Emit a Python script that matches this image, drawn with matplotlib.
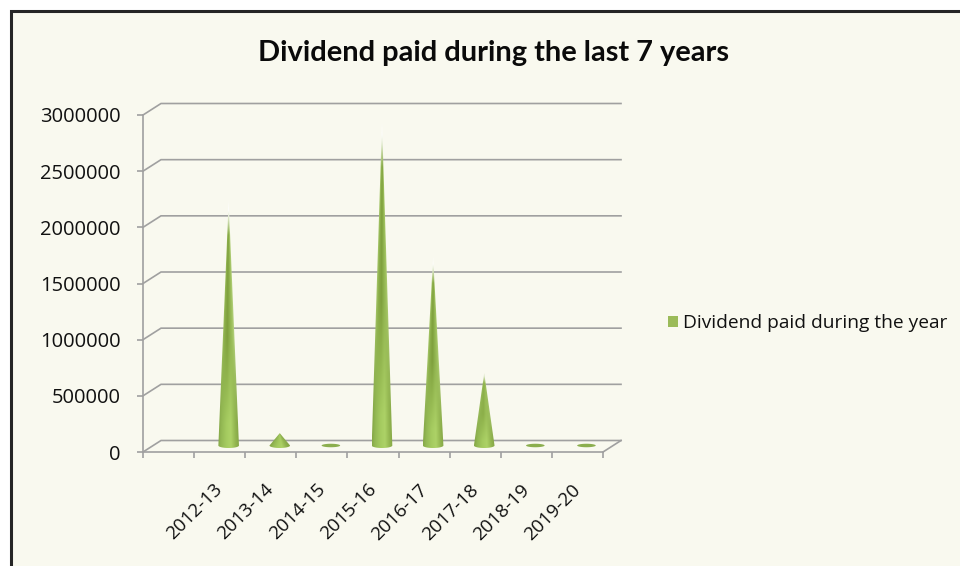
import numpy as np
import matplotlib
matplotlib.use("Agg")
import matplotlib.pyplot as plt
from matplotlib.patches import Polygon, Rectangle, Patch

categories = ["2012-13", "2013-14", "2014-15", "2015-16", "2016-17", "2017-18", "2018-19", "2019-20"]
dividend = [2180000, 110000, 10000, 2880000, 1680000, 645000, 10000, 10000]
y_ticks = [0, 500000, 1000000, 1500000, 2000000, 2500000, 3000000]
title = "Dividend paid during the last 7 years"
series_name = "Dividend paid during the year"

W, H = 960, 566
BG = "#F9F9EF"
GRID = "#A0A0A0"
fig = plt.figure(figsize=(W / 100, H / 100), dpi=100, facecolor="white")
fig.add_artist(Rectangle((10.5 / W, -0.05), 1.1, 1 - 10.5 / H + 0.05, transform=fig.transFigure,
                         facecolor=BG, edgecolor="#262626", linewidth=2.2, zorder=-5))

L, R, B, T = 143, 603, 452, 115
ax = fig.add_axes([L / W, 1 - B / H, (R - L) / W, (B - T) / H])
ax.patch.set_alpha(0)
ax.set_xlim(0, 9)
ax.set_ylim(0, 3000000)
px_x = 9 / (R - L)
px_y = 3000000 / (B - T)

# 3-D look: depth offset of the back wall
dx, dy = 18 * px_x, 11.5 * px_y
for v in y_ticks:
    ax.plot([0, dx, 9 + dx], [v, v + dy, v + dy], color=GRID, lw=1.2, clip_on=False, zorder=1,
            solid_joinstyle="miter")
ax.plot([9, 9 + dx], [0, dy], color=GRID, lw=1.2, clip_on=False, zorder=1)

for s in ("top", "right"):
    ax.spines[s].set_visible(False)
for s in ("left", "bottom"):
    ax.spines[s].set_color(GRID)
    ax.spines[s].set_linewidth(1.2)

ax.set_yticks(y_ticks)
ax.set_yticklabels([str(v) for v in y_ticks], family="Open Sans", fontsize=14.5, color="#111111")
ax.tick_params(axis="y", length=4.5, width=1.2, color=GRID, pad=11.5)
ax.set_xticks(np.arange(10))
ax.set_xticklabels([])
ax.tick_params(axis="x", which="major", length=4.5, width=1.2, color=GRID)
ax.set_xticks(np.arange(len(categories)) + 1.38, minor=True)
ax.set_xticklabels(categories, minor=True, rotation=45, ha="right", va="top", rotation_mode="anchor",
                   family="Open Sans", fontsize=13.6, color="#111111")
ax.tick_params(axis="x", which="minor", length=0, pad=20.5)

# cones
base_dx, base_dy = 9 * px_x, 6.5 * px_y
hw = 10.3 * px_x
eh = 2.5 * px_y


def hex2(c):
    return np.array(matplotlib.colors.to_rgb(c))


low_pts = [-1, -0.75, -0.2, 0.25, 0.7, 1]
low_c = np.array([hex2(c) for c in ("#86A948", "#93B853", "#A5CB60", "#ADD267", "#93B650", "#86A847")])
high_c = np.array([hex2(c) for c in ("#A3C466", "#8DB04C", "#7E9F3C", "#8FB24E", "#A0C25F", "#B4D07E")])

for i, v in enumerate(dividend):
    cx = i + 1.5 + base_dx
    y0 = base_dy
    tip = y0 + v
    t = np.linspace(0, np.pi, 40)
    arc_x = cx - hw * np.cos(t)
    arc_y = y0 - eh * np.sin(t)
    poly = np.vstack([[cx, tip], np.column_stack([arc_x, arc_y])])
    if v < 50000:
        t2 = np.linspace(0, 2 * np.pi, 60)
        ax.add_patch(Polygon(np.column_stack([cx + hw * 0.9 * np.cos(t2), y0 + eh * 0.7 * np.sin(t2)]),
                             closed=True, facecolor="#8BAE4E", edgecolor="none", zorder=3, clip_on=False))
        continue
    rows, cols = 500, 61
    us = np.linspace(-1, 1, cols)
    hs = np.linspace(1, 0, rows)  # top row = tip
    img = np.zeros((rows, cols, 3))
    tall = min(1.0, v / 1000000)
    for r, h in enumerate(hs):
        mix = np.clip((h - 0.10) / 0.35, 0, 1) * tall
        col = np.column_stack([np.interp(us / max(1 - h, 0.01), low_pts,
                                         low_c[:, k] * (1 - mix) + high_c[:, k] * mix) for k in range(3)])
        fade = np.clip((h - 0.86) / 0.10, 0, 1) * (tall if tall > 0.3 else 0)
        img[r] = col * (1 - fade) + fade
    im = ax.imshow(img, extent=(cx - hw, cx + hw, y0 - eh, tip), aspect="auto", zorder=3,
                   interpolation="bilinear")
    clip = Polygon(poly, closed=True, transform=ax.transData)
    im.set_clip_path(clip)
ax.set_xlim(0, 9)
ax.set_ylim(0, 3000000)

fig.text(493 / W, 1 - 53 / H, title, family="Lato", weight="bold", fontsize=20.9, color="#0A0A0A",
         ha="center", va="center")
fig.legend(handles=[Patch(facecolor="#9BBB59", edgecolor="none", label=series_name)],
           loc="center left", bbox_to_anchor=(668 / W, 1 - 323.5 / H), frameon=False,
           prop={"family": "Open Sans", "size": 13.8}, handlelength=0.52, handleheight=0.52,
           handletextpad=0.25, borderpad=0, borderaxespad=0, labelcolor="#111111")

fig.savefig("out.png", dpi=100, facecolor=fig.get_facecolor())
